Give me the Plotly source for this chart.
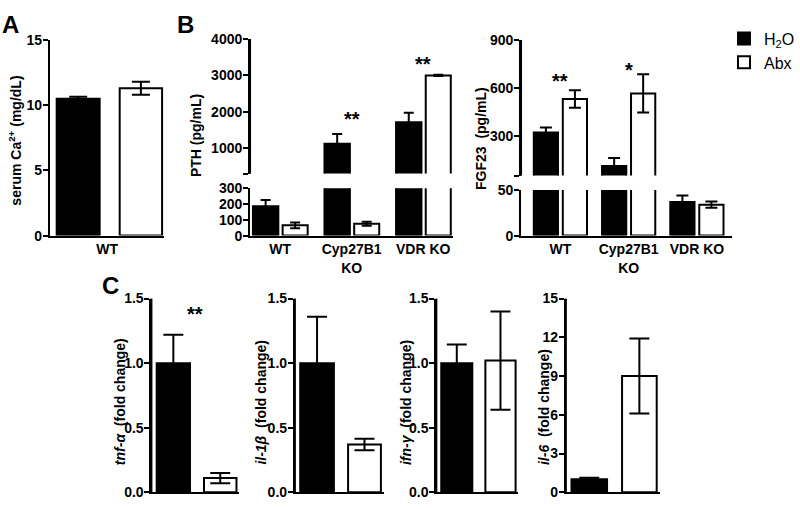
import plotly.graph_objects as go

W, H = 800, 509

# ---------------- data ----------------
ca_groups = ["WT"]
ca_h2o = [10.5]
ca_h2o_err = [0.15]
ca_abx = [11.3]
ca_abx_err = [0.5]

b_groups = ["WT", "Cyp27B1<br>KO", "VDR KO"]
pth_h2o = [185, 1120, 1710]
pth_h2o_err = [40, 270, 260]
pth_abx = [65, 75, 3000]
pth_abx_err = [18, 12, 20]

fgf_h2o = [320, 110, 37]
fgf_h2o_err = [32, 50, 7]
fgf_abx = [530, 565, 34]
fgf_abx_err = [55, 120, 3.5]

cyto_names = ["tnf-α", "il-1β", "ifn-γ", "il-6"]
cyto_h2o = [1.0, 1.0, 1.0, 1.0]
cyto_h2o_err = [0.22, 0.36, 0.145, 0.12]
cyto_abx = [0.11, 0.37, 1.02, 9.0]
cyto_abx_err = [0.04, 0.045, 0.38, 2.9]

ca_ticks = [0, 5, 10, 15]
pth_low_ticks = [0, 100, 200, 300]
pth_high_ticks = [300, 1000, 2000, 3000, 4000]
fgf_low_ticks = [0, 50]
fgf_high_ticks = [50, 300, 600, 900]
cyto_ticks = [[0, 0.5, 1.0, 1.5]] * 3 + [[0, 3, 6, 9, 12, 15]]
cyto_max = [1.5, 1.5, 1.5, 15]

# significance marks: (group index, text, y value)
pth_stars = [(1, "**", 1810), (2, "**", 3300)]
fgf_stars = [(0, "**", 640), (1, "*", 711)]
tnf_star = ("**", 1.38)

# ---------------- helpers ----------------
FONT = "Liberation Sans, Arial, sans-serif"


def xd(a, b):
    return [a / W, b / W]


def yd(top, bottom):
    return [1 - bottom / H, 1 - top / H]


fig = go.Figure()
layout = {}
shapes = []


def yaxis_style(domain, rng, tickvals, ticktext, anchor):
    return dict(domain=domain, range=rng, anchor=anchor,
                showline=True, linewidth=2,
                linecolor="black", ticks="outside", ticklen=5, tickwidth=2, tickcolor="black",
                tickvals=tickvals, ticktext=ticktext, showgrid=False, zeroline=False,
                ticklabelstandoff=-2,
                tickfont=dict(family=FONT, size=14, color="black", weight="bold"),
                fixedrange=True)


def xaxis_style(domain, rng, anchor, showlabels, cats, visible=True):
    return dict(domain=domain, range=rng, anchor=anchor, showline=visible, linewidth=2,
                linecolor="black", ticks="", showgrid=False, zeroline=False,
                type="category", categoryorder="array", categoryarray=cats,
                showticklabels=showlabels, visible=visible,
                tickfont=dict(family=FONT, size=14, color="black", weight="bold"),
                fixedrange=True)


def yline(xn, yn):
    # reinforce the y-axis spine along the left edge of the subplot
    shapes.append(dict(type="line", xref="%s domain" % xn, yref="%s domain" % yn,
                       x0=0, x1=0, y0=0, y1=1, line=dict(color="black", width=2)))


def above(vals, errs, floor):
    v = [a if a > floor else None for a in vals]
    e = [b if a > floor else None for a, b in zip(vals, errs)]
    return v, e


def add_pair(xname, yname, cats, h2o, h2o_err, abx, abx_err, boff, bw, woff, ww, cap, legend=False):
    fig.add_trace(go.Bar(x=cats, y=h2o, name="H<sub>2</sub>O", xaxis=xname, yaxis=yname,
                         offset=boff, width=bw, marker=dict(color="black", line=dict(color="black", width=2)),
                         error_y=dict(type="data", array=h2o_err, color="black", thickness=2, width=cap),
                         showlegend=legend, legendgroup="h2o"))
    fig.add_trace(go.Bar(x=cats, y=abx, name="Abx", xaxis=xname, yaxis=yname,
                         offset=woff, width=ww, marker=dict(color="white", line=dict(color="black", width=2)),
                         error_y=dict(type="data", array=abx_err, color="black", thickness=2, width=cap),
                         showlegend=legend, legendgroup="abx"))


# ---------------- Panel A ----------------
layout["xaxis"] = xaxis_style(xd(50, 165), [-0.5, 0.5], "y", True, ca_groups)
layout["yaxis"] = yaxis_style(yd(33, 235), [0, 15], ca_ticks, [str(t) for t in ca_ticks], "x")
add_pair("x", "y", ca_groups, ca_h2o, ca_h2o_err, ca_abx, ca_abx_err, -0.44, 0.375, 0.11, 0.37, 9, legend=True)

# ---------------- Panel B: PTH (broken axis) ----------------
pth_xdom, pth_xrng = xd(251, 455), [-0.42, 2.42]
layout["xaxis2"] = xaxis_style(pth_xdom, pth_xrng, "y2", True, b_groups)
layout["yaxis2"] = yaxis_style(yd(186, 235), [0, 300], pth_low_ticks, [str(t) for t in pth_low_ticks], "x2")
layout["xaxis3"] = xaxis_style(pth_xdom, pth_xrng, "y3", False, b_groups, visible=False)
layout["yaxis3"] = yaxis_style(yd(32, 171), [300, 4000], pth_high_ticks,
                               ["" if t == 300 else str(t) for t in pth_high_ticks], "x3")
add_pair("x2", "y2", b_groups, pth_h2o, pth_h2o_err, pth_abx, pth_abx_err, -0.38, 0.355, 0.035, 0.35, 5)
ph, phe = above(pth_h2o, pth_h2o_err, 300)
pa, pae = above(pth_abx, pth_abx_err, 300)
add_pair("x3", "y3", b_groups, ph, phe, pa, pae, -0.38, 0.355, 0.035, 0.35, 5)
yline("x3", "y3")

# ---------------- Panel B: FGF23 (broken axis) ----------------
fgf_xdom, fgf_xrng = xd(523, 735), [-0.577, 2.518]
layout["xaxis4"] = xaxis_style(fgf_xdom, fgf_xrng, "y4", True, b_groups)
layout["yaxis4"] = yaxis_style(yd(188, 235), [0, 50], fgf_low_ticks, [str(t) for t in fgf_low_ticks], "x4")
layout["xaxis5"] = xaxis_style(fgf_xdom, fgf_xrng, "y5", False, b_groups, visible=False)
layout["yaxis5"] = yaxis_style(yd(33, 173), [50, 900], fgf_high_ticks,
                               ["" if t == 50 else str(t) for t in fgf_high_ticks], "x5")
add_pair("x4", "y4", b_groups, fgf_h2o, fgf_h2o_err, fgf_abx, fgf_abx_err, -0.39, 0.355, 0.035, 0.355, 6)
fh, fhe = above(fgf_h2o, fgf_h2o_err, 50)
fa, fae = above(fgf_abx, fgf_abx_err, 50)
add_pair("x5", "y5", b_groups, fh, fhe, fa, fae, -0.39, 0.355, 0.035, 0.355, 6)
yline("x5", "y5")

# ---------------- Panel C ----------------
c_domains = [(152, 240), (296, 385), (438, 520), (568, 662)]
c_title_x = [120, 262, 407, 546]
for i in range(4):
    xn = "x%d" % (6 + i)
    yn = "y%d" % (6 + i)
    layout["xaxis%d" % (6 + i)] = xaxis_style(xd(*c_domains[i]), [-0.5, 0.5], yn, False, [cyto_names[i]])
    if cyto_max[i] > 2:
        tt = [str(t) for t in cyto_ticks[i]]
    else:
        tt = ["%.1f" % t for t in cyto_ticks[i]]
    layout["yaxis%d" % (6 + i)] = yaxis_style(yd(300, 500), [0, cyto_max[i]], cyto_ticks[i], tt, xn)
    add_pair(xn, yn, [cyto_names[i]], [cyto_h2o[i]], [cyto_h2o_err[i]], [cyto_abx[i]], [cyto_abx_err[i]],
             -0.44, 0.38, 0.10, 0.37, 10)
    yline(xn, yn)

# ---------------- annotations ----------------
ann = []


def title_ann(text, x, y, yanchor="middle"):
    ann.append(dict(text=text, x=x / W, y=1 - y / H, xref="paper", yref="paper", textangle=-90,
                    showarrow=False, xanchor="center", yanchor=yanchor,
                    font=dict(family=FONT, size=14, color="black", weight="bold")))


title_ann("serum Ca<sup>2+</sup> (mg/dL)", 15, 137)
title_ann("PTH (pg/mL)", 197, 132)
title_ann("FGF23  (pg/mL)", 483, 135)
for i in range(4):
    title_ann("<i>%s</i>  (fold change)" % cyto_names[i], c_title_x[i], 474, yanchor="bottom")

for lab, x, y in [("A", 11, 17), ("B", 186, 17), ("C", 111, 287)]:
    ann.append(dict(text=lab, x=x / W, y=1 - y / H, xref="paper", yref="paper", showarrow=False,
                    xanchor="center", yanchor="middle",
                    font=dict(family=FONT, size=24, color="black", weight="bold")))

for gi, txt, yv in pth_stars:
    ann.append(dict(text=txt, x=b_groups[gi], y=yv, xref="x3", yref="y3", showarrow=False,
                    font=dict(family=FONT, size=20, color="black", weight="bold")))
for gi, txt, yv in fgf_stars:
    ann.append(dict(text=txt, x=b_groups[gi], y=yv, xref="x5", yref="y5", showarrow=False,
                    font=dict(family=FONT, size=20, color="black", weight="bold")))
ann.append(dict(text=tnf_star[0], x=cyto_names[0], y=tnf_star[1], xref="x6", yref="y6", showarrow=False,
                font=dict(family=FONT, size=20, color="black", weight="bold")))

fig.update_layout(
    width=W, height=H, margin=dict(l=0, r=0, t=0, b=0),
    paper_bgcolor="white", plot_bgcolor="white",
    barmode="overlay", annotations=ann, shapes=shapes,
    legend=dict(x=727 / W, y=1 - 14 / H, xanchor="left", yanchor="top",
                font=dict(family=FONT, size=16, color="black"), bgcolor="rgba(0,0,0,0)",
                tracegroupgap=0, itemwidth=30),
    **layout,
)

fig.write_html("out.html", config={"displayModeBar": False},
               post_script="document.body.style.margin='0px';document.body.style.overflow='hidden';")
